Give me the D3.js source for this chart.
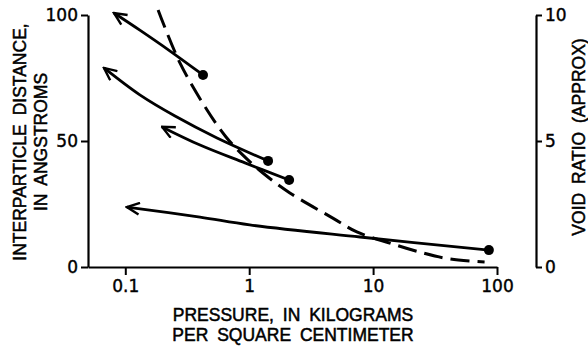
<!DOCTYPE html>
<html>
<head>
<meta charset="utf-8">
<script src="https://cdn.jsdelivr.net/npm/d3@7/dist/d3.min.js"></script>
<style>
  html, body { margin: 0; padding: 0; background: #fff; }
  svg { display: block; }
  .tick text { font-family: "DejaVu Sans", sans-serif; font-size: 17px; fill: #000; stroke: #000; stroke-width: 0.4px; }
  .domain, .tick line { stroke: #000; }
  .title { font-family: "Liberation Sans", Arial, sans-serif; font-size: 17.5px; fill: #000; stroke: #000; stroke-width: 0.5px; word-spacing: 4px; }
</style>
</head>
<body>
<svg id="chart" width="588" height="348"></svg>
<script>
// Axis ticks
const pressureTicks = [0.1, 1, 10, 100];
const distanceTicks = [0, 50, 100];
const voidTicks = [0, 5, 10];

// Rebound (unloading) paths: [pressure kg/cm², interparticle distance Å],
// listed from the arrow tip back to the starting point (dot)
const reboundA = [[0.081, 100.8], [0.131, 94.0], [0.230, 85.7], [0.424, 76.2]];
const reboundB = [[0.0673, 79.0], [0.131, 68.3], [0.252, 59.9], [0.550, 51.2], [1.42, 42.1]];
const reboundC = [[0.198, 55.6], [0.401, 48.4], [0.925, 41.3], [2.10, 34.5]];
const reboundD = [[0.103, 23.8], [0.401, 19.8], [1.01, 16.7], [7.84, 11.9], [86.0, 6.7]];

// Compression curve: [pressure kg/cm², void ratio]
const compression = [
  [0.184, 10.2], [0.276, 8.10], [0.457, 6.23], [0.650, 5.16], [0.890, 4.44],
  [1.29, 3.73], [2.13, 2.94], [4.73, 1.94], [7.39, 1.39], [13.6, 0.95],
  [25.1, 0.56], [41.5, 0.32], [79.4, 0.20]
];

const svg = d3.select("#chart");

const x = d3.scaleLog().domain([0.05, 100]).range([88, 497]);
const yL = d3.scaleLinear().domain([0, 100]).range([267, 15]);
const yR = d3.scaleLinear().domain([0, 10]).range([267, 15]);

// Axes
const gx = svg.append("g").attr("transform", "translate(0,267)")
  .call(d3.axisBottom(x).tickValues(pressureTicks).tickFormat(d => String(d))
    .tickSize(8).tickSizeOuter(0).tickPadding(5));
const gyl = svg.append("g").attr("transform", "translate(88,0)")
  .call(d3.axisLeft(yL).tickValues(distanceTicks).tickSize(7).tickSizeOuter(0).tickPadding(3));
const gyr = svg.append("g").attr("transform", "translate(536,0)")
  .call(d3.axisRight(yR).tickValues(voidTicks).tickSize(6).tickSizeOuter(0).tickPadding(3));

[gx, gyl, gyr].forEach(g => {
  g.select(".domain").attr("stroke-width", 2.2);
  g.selectAll(".tick line").attr("stroke-width", 2);
});

// Arrowhead (open V) placed at the start of each rebound path
const defs = svg.append("defs");
defs.append("marker")
  .attr("id", "arrow")
  .attr("viewBox", "0 -7 15 14")
  .attr("refX", 13.5).attr("refY", 0)
  .attr("markerWidth", 15).attr("markerHeight", 14)
  .attr("markerUnits", "userSpaceOnUse")
  .attr("orient", "auto-start-reverse")
  .append("path")
  .attr("d", "M1,-5.8 L13.5,0 L1,5.8")
  .attr("fill", "none").attr("stroke", "#000")
  .attr("stroke-width", 2.4).attr("stroke-linejoin", "miter");

const lineL = d3.line().x(d => x(d[0])).y(d => yL(d[1])).curve(d3.curveCatmullRom.alpha(0.5));
const lineR = d3.line().x(d => x(d[0])).y(d => yR(d[1])).curve(d3.curveCatmullRom.alpha(0.5));

// Compression curve (dashed, void ratio scale)
svg.append("path")
  .datum(compression)
  .attr("d", lineR)
  .attr("fill", "none").attr("stroke", "#000")
  .attr("stroke-width", 3).attr("stroke-dasharray", "19,8");

// Rebound paths with arrows and starting dots
const rebounds = [reboundA, reboundB, reboundC, reboundD];
rebounds.forEach(s => {
  svg.append("path")
    .datum(s)
    .attr("d", lineL)
    .attr("fill", "none").attr("stroke", "#000")
    .attr("stroke-width", 2.8)
    .attr("marker-start", "url(#arrow)");
  const last = s[s.length - 1];
  svg.append("circle")
    .attr("cx", x(last[0])).attr("cy", yL(last[1]))
    .attr("r", 5).attr("fill", "#000");
});

// Axis titles
svg.append("text").attr("class", "title")
  .attr("text-anchor", "middle")
  .attr("transform", "translate(26,142) rotate(-90)")
  .text("INTERPARTICLE DISTANCE,");
svg.append("text").attr("class", "title")
  .attr("text-anchor", "middle")
  .attr("transform", "translate(47,142) rotate(-90)")
  .text("IN ANGSTROMS");
svg.append("text").attr("class", "title")
  .attr("text-anchor", "middle")
  .attr("transform", "translate(585,137) rotate(-90)")
  .text("VOID RATIO (APPROX)");
svg.append("text").attr("class", "title")
  .attr("text-anchor", "middle")
  .attr("x", 293).attr("y", 321)
  .text("PRESSURE, IN KILOGRAMS");
svg.append("text").attr("class", "title")
  .attr("text-anchor", "middle")
  .attr("x", 293).attr("y", 341)
  .text("PER SQUARE CENTIMETER");
</script>
</body>
</html>
